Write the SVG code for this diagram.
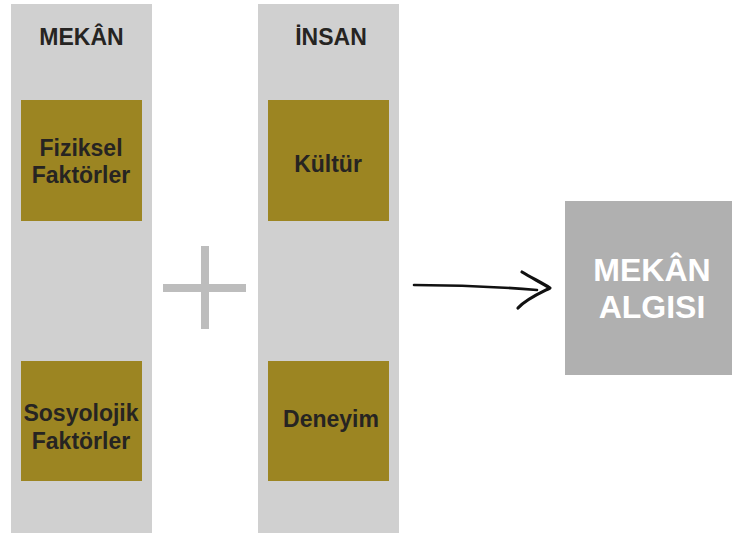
<svg xmlns="http://www.w3.org/2000/svg" width="732" height="533" viewBox="0 0 732 533">
<style>
.col{fill:#d0d0d0}
.box{fill:#9c8522}
.t{font-family:"Liberation Sans",Arial,sans-serif;font-weight:bold;font-size:23px;fill:#262422;text-anchor:middle}
.w{font-family:"Liberation Sans",Arial,sans-serif;font-weight:bold;font-size:32px;fill:#ffffff;text-anchor:middle}
.plus{fill:#bdbdbd}
</style>
<rect width="732" height="533" fill="#ffffff"/>
<g id="col-mekan">
<rect class="col" x="11" y="4" width="141" height="529"/>
<text class="t" x="81.5" y="45">MEKÂN</text>
</g>
<g id="col-insan">
<rect class="col" x="258" y="4" width="141" height="529"/>
<text class="t" x="331" y="45">İNSAN</text>
</g>
<g id="fiziksel">
<rect class="box" x="21" y="100" width="121" height="121"/>
<text class="t" x="81" y="156">Fiziksel</text>
<text class="t" x="81" y="183">Faktörler</text>
</g>
<g id="kultur">
<rect class="box" x="268" y="100" width="121" height="121"/>
<text class="t" x="328" y="172">Kültür</text>
</g>
<g id="sosyolojik">
<rect class="box" x="21" y="361" width="121" height="120"/>
<text class="t" x="81" y="421">Sosyolojik</text>
<text class="t" x="81" y="449">Faktörler</text>
</g>
<g id="deneyim">
<rect class="box" x="268" y="361" width="121" height="120"/>
<text class="t" x="331" y="427">Deneyim</text>
</g>
<g id="plus">
<rect class="plus" x="163" y="284" width="83" height="8"/>
<rect class="plus" x="201" y="246" width="8" height="83"/>
</g>
<g id="mekan-algisi">
<rect fill="#b0b0b0" x="565" y="201" width="167" height="174"/>
<text class="w" x="652" y="281">MEKÂN</text>
<text class="w" x="652" y="318">ALGISI</text>
</g>
<g id="connectors" fill="none" stroke="#111111" stroke-linecap="round" stroke-linejoin="round">
<path stroke-width="2.6" d="M414 285 C460 285 500 287 537 290"/>
<path stroke-width="3.2" d="M522 272 C532 278 542 283 550 288 C540 293 526 299 518 308"/>
</g>
</svg>
